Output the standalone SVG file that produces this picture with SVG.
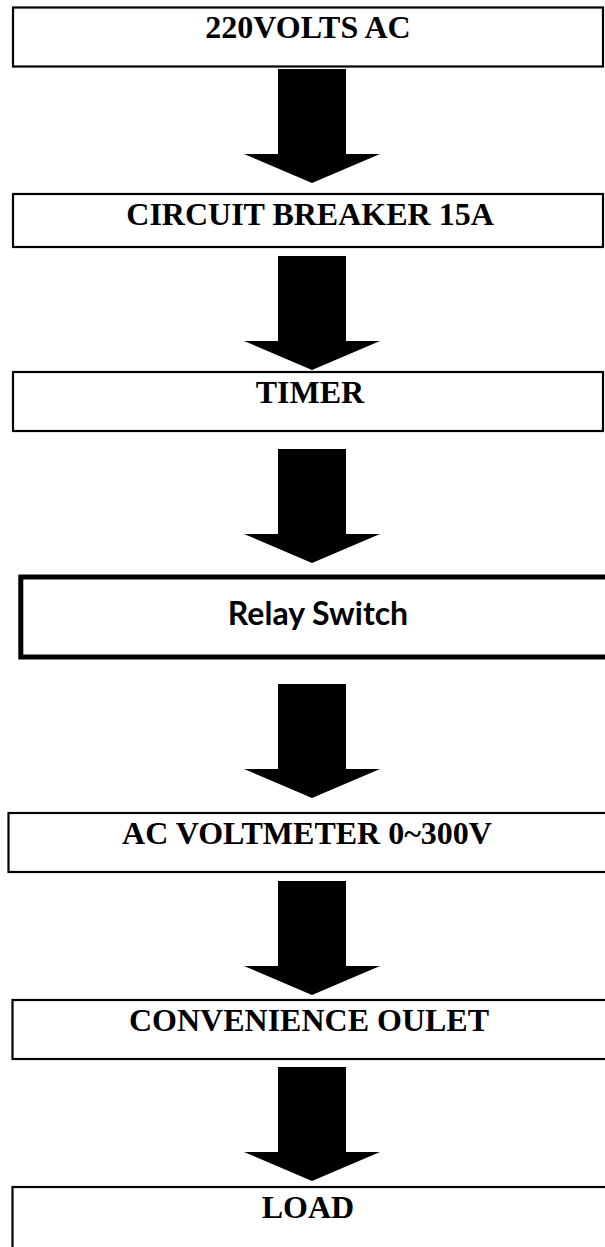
<svg xmlns="http://www.w3.org/2000/svg" width="605" height="1247" viewBox="0 0 605 1247">
<style>
.box{fill:#fff;stroke:#000;stroke-width:2.2}
.thick{fill:#fff;stroke:#000;stroke-width:5}
.t{font-family:"Liberation Serif","Times New Roman",serif;font-weight:bold;font-size:32px;fill:#000;text-anchor:middle}
.s{font-family:Lato,"Liberation Sans",sans-serif;font-weight:bold;font-size:32px;fill:#000;text-anchor:middle}
.arr{fill:#000}
</style>
<defs>
<path id="arrow" d="M278,0 H346 V85 H380 L312,114 L244,85 H278 Z"/>
</defs>
<g id="connectors">
<use href="#arrow" class="arr" y="69"/>
<use href="#arrow" class="arr" y="256"/>
<use href="#arrow" class="arr" y="449"/>
<use href="#arrow" class="arr" y="684"/>
<use href="#arrow" class="arr" y="881"/>
<use href="#arrow" class="arr" y="1067"/>
</g>
<g id="n1"><rect class="box" x="13" y="7.5" width="590" height="59"/><text class="t" x="308" y="38">220VOLTS AC</text></g>
<g id="n2"><rect class="box" x="13" y="194" width="590" height="53"/><text class="t" x="310" y="225">CIRCUIT BREAKER 15A</text></g>
<g id="n3"><rect class="box" x="13" y="372" width="590" height="59"/><text class="t" x="310" y="403">TIMER</text></g>
<g id="n4"><rect class="thick" x="20.8" y="577" width="600" height="80"/><text class="s" x="318" y="625">Relay Switch</text></g>
<g id="n5"><rect class="box" x="8.5" y="813" width="610" height="59"/><text class="t" x="307" y="843.5">AC VOLTMETER 0~300V</text></g>
<g id="n6"><rect class="box" x="12.5" y="1000" width="610" height="59"/><text class="t" x="309" y="1030.5">CONVENIENCE OULET</text></g>
<g id="n7"><rect class="box" x="12.5" y="1187" width="610" height="80"/><text class="t" x="308" y="1217.5">LOAD</text></g>
</svg>
